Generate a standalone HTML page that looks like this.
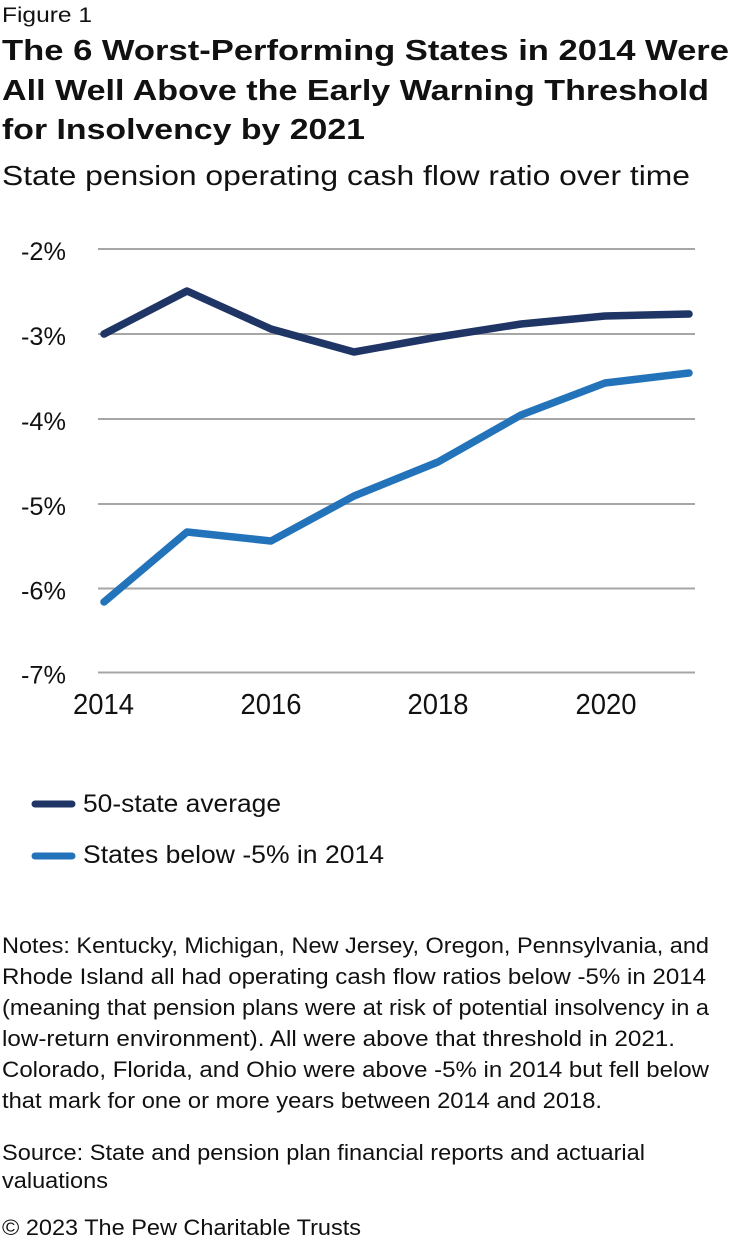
<!DOCTYPE html>
<html><head><meta charset="utf-8"><style>
html,body{margin:0;padding:0;background:#fff;}
svg{display:block;}
text{font-family:"Liberation Sans",sans-serif;fill:#111;}
</style></head><body>
<svg width="732" height="1244" viewBox="0 0 732 1244" xmlns="http://www.w3.org/2000/svg">
<text x="2" y="22" font-size="21" textLength="90" lengthAdjust="spacingAndGlyphs">Figure 1</text>
<text x="2" y="60" font-size="29" font-weight="bold" textLength="727" lengthAdjust="spacingAndGlyphs">The 6 Worst-Performing States in 2014 Were</text>
<text x="2" y="100" font-size="29" font-weight="bold" textLength="707" lengthAdjust="spacingAndGlyphs">All Well Above the Early Warning Threshold</text>
<text x="2" y="139" font-size="29" font-weight="bold" textLength="363" lengthAdjust="spacingAndGlyphs">for Insolvency by 2021</text>
<text x="2" y="185" font-size="28" textLength="688" lengthAdjust="spacingAndGlyphs">State pension operating cash flow ratio over time</text>

<g stroke="#a6a6a6" stroke-width="2">
<line x1="98" y1="249" x2="695" y2="249"/>
<line x1="98" y1="334" x2="695" y2="334"/>
<line x1="98" y1="419" x2="695" y2="419"/>
<line x1="98" y1="504" x2="695" y2="504"/>
<line x1="98" y1="588.5" x2="695" y2="588.5"/>
<line x1="98" y1="672.5" x2="695" y2="672.5"/>
</g>
<g font-size="25" text-anchor="end">
<text x="66" y="260" textLength="45" lengthAdjust="spacingAndGlyphs">-2%</text>
<text x="66" y="345" textLength="45" lengthAdjust="spacingAndGlyphs">-3%</text>
<text x="66" y="430" textLength="45" lengthAdjust="spacingAndGlyphs">-4%</text>
<text x="66" y="515" textLength="45" lengthAdjust="spacingAndGlyphs">-5%</text>
<text x="66" y="599.5" textLength="45" lengthAdjust="spacingAndGlyphs">-6%</text>
<text x="66" y="683.5" textLength="45" lengthAdjust="spacingAndGlyphs">-7%</text>
</g>
<g font-size="29" text-anchor="middle">
<text x="103.5" y="714" textLength="61" lengthAdjust="spacingAndGlyphs">2014</text>
<text x="271" y="714" textLength="61" lengthAdjust="spacingAndGlyphs">2016</text>
<text x="438" y="714" textLength="61" lengthAdjust="spacingAndGlyphs">2018</text>
<text x="606" y="714" textLength="61" lengthAdjust="spacingAndGlyphs">2020</text>
</g>

<polyline fill="none" stroke="#1f3565" stroke-width="7.5" stroke-linecap="round" stroke-linejoin="round"
 points="104,334 187,291 271,329 354,352 438,337 521,324 605,316 689,314"/>
<polyline fill="none" stroke="#2373bb" stroke-width="7.5" stroke-linecap="round" stroke-linejoin="round"
 points="104,602 187,532 271,541 354,496 438,462 521,415 605,383 689,373"/>

<line x1="35" y1="804" x2="72" y2="804" stroke="#1f3565" stroke-width="7" stroke-linecap="round"/>
<text x="83" y="812" font-size="25" textLength="198" lengthAdjust="spacingAndGlyphs">50-state average</text>
<line x1="35" y1="856" x2="72" y2="856" stroke="#2373bb" stroke-width="7" stroke-linecap="round"/>
<text x="83" y="863" font-size="25" textLength="301" lengthAdjust="spacingAndGlyphs">States below -5% in 2014</text>

<g font-size="22">
<text x="2" y="953" textLength="707" lengthAdjust="spacingAndGlyphs">Notes: Kentucky, Michigan, New Jersey, Oregon, Pennsylvania, and</text>
<text x="2" y="984" textLength="704" lengthAdjust="spacingAndGlyphs">Rhode Island all had operating cash flow ratios below -5% in 2014</text>
<text x="2" y="1015" textLength="707" lengthAdjust="spacingAndGlyphs">(meaning that pension plans were at risk of potential insolvency in a</text>
<text x="2" y="1046" textLength="673" lengthAdjust="spacingAndGlyphs">low-return environment). All were above that threshold in 2021.</text>
<text x="2" y="1077" textLength="707" lengthAdjust="spacingAndGlyphs">Colorado, Florida, and Ohio were above -5% in 2014 but fell below</text>
<text x="2" y="1108" textLength="600" lengthAdjust="spacingAndGlyphs">that mark for one or more years between 2014 and 2018.</text>
<text x="2" y="1160" textLength="643" lengthAdjust="spacingAndGlyphs">Source: State and pension plan financial reports and actuarial</text>
<text x="2" y="1188" textLength="106" lengthAdjust="spacingAndGlyphs">valuations</text>
<text x="2" y="1235" textLength="359" lengthAdjust="spacingAndGlyphs">© 2023 The Pew Charitable Trusts</text>
</g>
</svg>
</body></html>
